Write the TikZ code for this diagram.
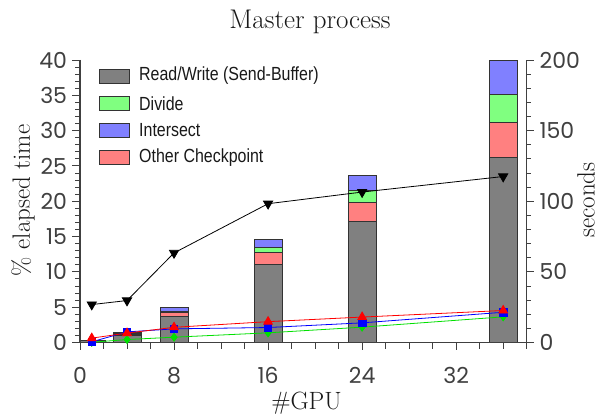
\documentclass[tikz,border=0pt]{standalone}
\usepackage{fontspec}
\usepackage{graphicx}
\newfontfamily\tickfont{Poppins}
\newfontfamily\legfont{Liberation Sans}[FakeStretch=0.84]
\usetikzlibrary{plotmarks}
\definecolor{barGray}{HTML}{808080}
\definecolor{barRed}{HTML}{FF8080}
\definecolor{barGreen}{HTML}{80FF80}
\definecolor{barBlue}{HTML}{8080FF}
\definecolor{axisC}{HTML}{404040}
\definecolor{lineGreen}{HTML}{00E000}
\definecolor{lineBlue}{HTML}{0000FF}
\definecolor{lineRed}{HTML}{FF0000}
\tikzset{
  barseg/.style={draw=black!80, line width=0.8pt},
  axisline/.style={draw=axisC, line width=1.1pt},
  tickline/.style={draw=axisC, line width=0.9pt},
  ticklab/.style={inner sep=0pt, text=axisC, font=\tickfont\fontsize{22}{22}\selectfont},
  serlab/.style={inner sep=0pt, text=black!90, font=\fontsize{25}{25}\selectfont},
  legtext/.style={inner sep=0pt, anchor=west, text=black!90, font=\legfont\fontsize{19}{19}\selectfont},
  legbox/.style={draw=black!80, line width=0.8pt},
  series/.style={line width=0.8pt},
}
\newcommand\stackbarx[5]{%
  \filldraw[barseg, fill=barGray] ({max(#1-1.2,0)},0) rectangle (#1+1.2,#2);
  \filldraw[barseg, fill=barRed] ({max(#1-1.2,0)},#2) rectangle (#1+1.2,#3);
  \filldraw[barseg, fill=barGreen] ({max(#1-1.2,0)},#3) rectangle (#1+1.2,#4);
  \filldraw[barseg, fill=barBlue] ({max(#1-1.2,0)},#4) rectangle (#1+1.2,#5);
}
\begin{document}
\begin{tikzpicture}[x=1pt,y=1pt]
\useasboundingbox (0,0) rectangle (598,414);
\fill[white] (0,0) rectangle (598,414);
\node[serlab, anchor=base, font=\fontsize{27}{27}\selectfont] (title) at (310,385) {Master process};
\node[serlab, rotate=90, anchor=base] (ylab) at (30,213.5) {\% elapsed time};
\node[serlab, anchor=base] (xlab) at (306.5,4) {\#GPU};
\node[serlab, rotate=90, anchor=base] (y2lab) at (594.5,214) {seconds};
\begin{scope}[shift={(80pt,71.5pt)}, x=11.755pt, y=7.0625pt]
  % bars
  \stackbarx{1}{0.25}{0.3}{0.32}{0.36}
  \stackbarx{4}{0.95}{1.12}{1.22}{1.39}
  \stackbarx{8}{3.65}{4.2}{4.4}{4.98}
  \stackbarx{16}{11.1}{12.75}{13.4}{14.65}
  \stackbarx{24}{17.14}{19.9}{21.6}{23.7}
  \stackbarx{36}{26.2}{31.2}{35.15}{39.9}
  % axes
  \draw[axisline] (0,40) -- (0,0) -- (38,0) -- (38,40);
  \foreach \v in {0,...,40} \draw[tickline] (0,\v) -- ++(-5pt,0);
  \foreach \v in {0,5,...,40} \draw[tickline] (0,\v) -- ++(-8pt,0)
     node[ticklab, anchor=east, xshift=-4.5pt] {\v};
  \foreach \v in {0,2,...,40} \draw[tickline] (38,\v) -- ++(4.5pt,0);
  \foreach \v/\s in {0/0,10/50,20/100,30/150,40/200} \draw[tickline] (38,\v) -- ++(7.5pt,0)
     node[ticklab, anchor=west, xshift=5pt] {\s};
  \foreach \v in {0,2,...,38} \draw[tickline] (\v,0) -- ++(0,-6.5pt);
  \foreach \v in {0,8,...,32} \draw[tickline] (\v,0) -- ++(0,-8pt)
     node[ticklab, anchor=north, yshift=-16pt] {\v};
  % series
  \draw[series, lineGreen, mark=diamond*, mark size=4pt, mark options={fill=lineGreen, draw=lineGreen}]
    plot coordinates {(1,0.03) (4,0.42) (8,0.75) (16,1.37) (24,2.17) (36,3.63)};
  \draw[series, lineBlue, mark=square*, mark size=3.8pt, mark options={fill=lineBlue, draw=lineBlue}]
    plot coordinates {(1,0.1) (4,1.5) (8,1.93) (16,2.12) (24,2.78) (36,4.28)};
  \draw[series, lineRed, mark=triangle*, mark size=5pt, mark options={fill=lineRed, draw=lineRed}]
    plot coordinates {(1,0.62) (4,1.33) (8,2.15) (16,2.95) (24,3.6) (36,4.53)};
  \draw[series, black, mark=triangle*, mark size=5.3pt, mark options={rotate=180, fill=black}]
    plot coordinates {(1,5.37) (4,5.94) (8,12.68) (16,19.65) (24,21.3) (36,23.5)};
\end{scope}
% legend
\foreach \c/\t/\yy in {barGray/Read\slash Write (Send-Buffer)/338, barGreen/Divide/310.7, barBlue/Intersect/284, barRed/Other Checkpoint/256.7}{
  \filldraw[legbox, fill=\c] (99.3,\yy-7) rectangle (129.3,\yy+7);
  \node[legtext] at (139,\yy) {\t};
}
\end{tikzpicture}
\end{document}
